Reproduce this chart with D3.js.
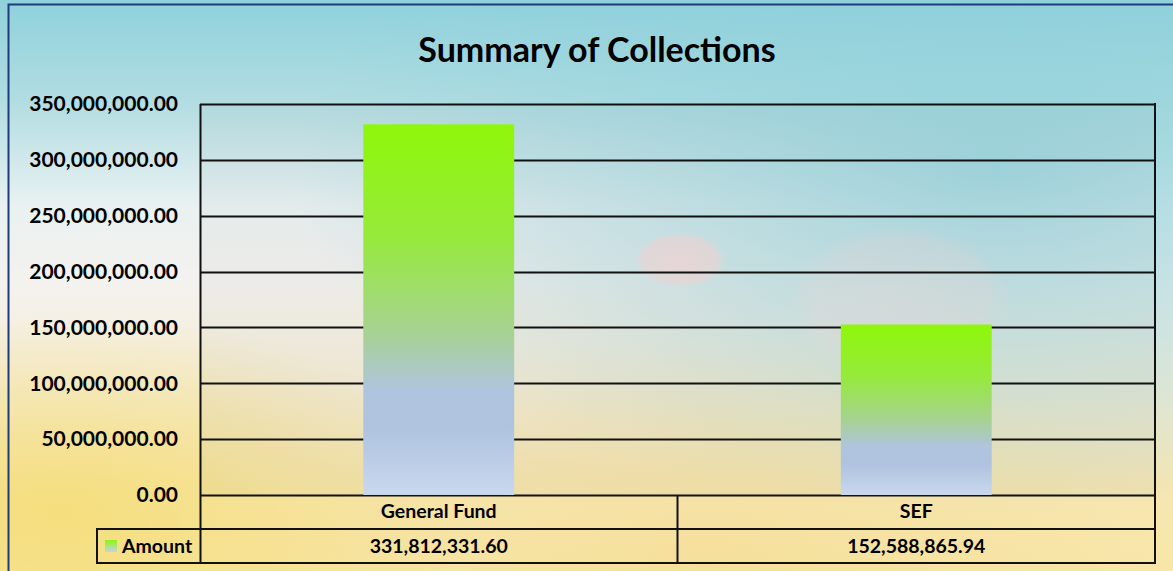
<!DOCTYPE html>
<html><head><meta charset="utf-8">
<script src="https://cdn.jsdelivr.net/npm/d3@7"></script>
<style>html,body{margin:0;padding:0;background:#fff;overflow:hidden}svg{display:block}</style>
</head><body>
<svg id="c" width="1173" height="571"></svg>
<script>
const categories = ["General Fund", "SEF"];
const amounts = [331812331.60, 152588865.94];
const seriesName = "Amount";
const yTicks = [0, 50000000, 100000000, 150000000, 200000000, 250000000, 300000000, 350000000];
const title = "Summary of Collections";

const W = 1173, H = 571;
const svg = d3.select("#c");
const defs = svg.append("defs");
const FONT = "Lato, 'Open Sans', sans-serif";

// background gradients
const bg = defs.append("linearGradient").attr("id","bg").attr("x1",0).attr("y1",0).attr("x2",0).attr("y2",1);
[[0,"#8fd1dc"],[0.18,"#b2dde2"],[0.36,"#e9f1f2"],[0.5,"#f4f2ee"],[0.68,"#f4ecd4"],[0.85,"#f7e6b2"],[1,"#f8e6a8"]]
  .forEach(([o,c])=>bg.append("stop").attr("offset",o).attr("stop-color",c));
const rt = defs.append("radialGradient").attr("id","rt").attr("cx",0.85).attr("cy",0.3).attr("r",0.6);
rt.append("stop").attr("offset",0).attr("stop-color","#8ccfd9").attr("stop-opacity",0.75);
rt.append("stop").attr("offset",1).attr("stop-color","#8ccfd9").attr("stop-opacity",0);
const lb = defs.append("radialGradient").attr("id","lb").attr("cx",0.05).attr("cy",0.9).attr("r",0.35);
lb.append("stop").attr("offset",0).attr("stop-color","#f4dc70").attr("stop-opacity",0.8);
lb.append("stop").attr("offset",1).attr("stop-color","#f4dc70").attr("stop-opacity",0);
const rb = defs.append("radialGradient").attr("id","rb").attr("cx",0.6).attr("cy",1.0).attr("r",0.4);
rb.append("stop").attr("offset",0).attr("stop-color","#f2d88a").attr("stop-opacity",0.45);
rb.append("stop").attr("offset",1).attr("stop-color","#f2d88a").attr("stop-opacity",0);
const pk = defs.append("radialGradient").attr("id","pk");
pk.append("stop").attr("offset",0).attr("stop-color","#f6d8d8").attr("stop-opacity",0.8);
pk.append("stop").attr("offset",0.8).attr("stop-color","#f4d6d6").attr("stop-opacity",0.6);
pk.append("stop").attr("offset",1).attr("stop-color","#f4d6d6").attr("stop-opacity",0);

svg.append("rect").attr("width",W).attr("height",H).attr("fill","url(#bg)");
svg.append("rect").attr("width",W).attr("height",H).attr("fill","url(#rt)");
svg.append("rect").attr("width",W).attr("height",H).attr("fill","url(#lb)");
svg.append("rect").attr("width",W).attr("height",H).attr("fill","url(#rb)");
svg.append("ellipse").attr("cx",680).attr("cy",260).attr("rx",46).attr("ry",28).attr("fill","url(#pk)");
svg.append("ellipse").attr("cx",900).attr("cy",300).attr("rx",110).attr("ry",75).attr("fill","url(#pk)").attr("opacity",0.4);

// outer border
svg.append("rect").attr("x",8.5).attr("y",4.5).attr("width",W+10).attr("height",H+10)
  .attr("fill","none").attr("stroke","#1f3b7a").attr("stroke-width",2);

// title
svg.append("text").attr("x",597).attr("y",62).attr("text-anchor","middle")
  .attr("font-family",FONT).attr("font-weight","bold").attr("font-size",34).attr("fill","#000").text(title);

// plot geometry
const L = 200, R = 1155, T = 104, B = 495;
const x = d3.scaleBand().domain(categories).range([L,R]).paddingInner(0).paddingOuter(0);
const y = d3.scaleLinear().domain([0,350000000]).range([B,T]);

// plot area tint
svg.append("rect").attr("x",L).attr("y",T).attr("width",R-L).attr("height",B-T)
  .attr("fill","#9a9a9a").attr("fill-opacity",0.07);

// gridlines
svg.append("g").selectAll("line").data(yTicks).join("line")
  .attr("x1",L).attr("x2",R).attr("y1",d=>Math.round(y(d))+0.5).attr("y2",d=>Math.round(y(d))+0.5)
  .attr("stroke","#111").attr("stroke-width",2);

// bar gradient
const bgGrad = defs.append("linearGradient").attr("id","barg").attr("x1",0).attr("y1",0).attr("x2",0).attr("y2",1);
[[0,"#8ef70a"],[0.3,"#96ea3a"],[0.55,"#a6d38e"],[0.72,"#afc4df"],[0.82,"#afc3e0"],[1,"#c9d8ed"]]
  .forEach(([o,c])=>bgGrad.append("stop").attr("offset",o).attr("stop-color",c));

const bw = x.bandwidth()*0.316;
svg.append("g").selectAll("rect").data(amounts).join("rect")
  .attr("x",(d,i)=>x(categories[i])+x.bandwidth()/2-bw/2)
  .attr("y",d=>y(d)).attr("width",bw).attr("height",d=>B-y(d))
  .attr("fill","url(#barg)");

// y axis
const yAxis = d3.axisLeft(y).tickValues(yTicks).tickSize(0).tickPadding(22)
  .tickFormat(d=>d3.format(",.2f")(d));
const ga = svg.append("g").attr("transform",`translate(${L},0)`).call(yAxis);
ga.select(".domain").remove();
ga.selectAll("text").attr("font-family",FONT).attr("font-weight","bold").attr("font-size",21).attr("fill","#000");
// left axis line
svg.append("line").attr("x1",L+0.5).attr("x2",L+0.5).attr("y1",T).attr("y2",563).attr("stroke","#111").attr("stroke-width",2);
// right border
svg.append("line").attr("x1",R).attr("x2",R).attr("y1",T-1).attr("y2",564).attr("stroke","#111").attr("stroke-width",2);

// data table
const r1 = 529, r2 = 563, LL = 97;
svg.append("line").attr("x1",L).attr("x2",R).attr("y1",r1).attr("y2",r1).attr("stroke","#111").attr("stroke-width",2);
svg.append("line").attr("x1",LL).attr("x2",L).attr("y1",r1).attr("y2",r1).attr("stroke","#111").attr("stroke-width",2);
svg.append("line").attr("x1",LL).attr("x2",R+1).attr("y1",r2).attr("y2",r2).attr("stroke","#111").attr("stroke-width",2);
svg.append("line").attr("x1",LL).attr("x2",LL).attr("y1",r1-1).attr("y2",r2+1).attr("stroke","#111").attr("stroke-width",2);
svg.append("g").selectAll("line").data(categories.slice(1)).join("line")
  .attr("x1",d=>x(d)).attr("x2",d=>x(d)).attr("y1",B).attr("y2",r2)
  .attr("stroke","#111").attr("stroke-width",2);

svg.append("g").selectAll("text").data(categories).join("text")
  .attr("x",d=>x(d)+x.bandwidth()/2).attr("y",518).attr("text-anchor","middle")
  .attr("font-family",FONT).attr("font-weight","bold").attr("font-size",19.5).attr("fill","#000").text(d=>d);
svg.append("g").selectAll("text").data(amounts).join("text")
  .attr("x",(d,i)=>x(categories[i])+x.bandwidth()/2).attr("y",553).attr("text-anchor","middle")
  .attr("font-family",FONT).attr("font-weight","bold").attr("font-size",19.5).attr("fill","#000").text(d=>d3.format(",.2f")(d));

// legend key
const lg = defs.append("linearGradient").attr("id","lg").attr("x1",0).attr("y1",0).attr("x2",0).attr("y2",1);
lg.append("stop").attr("offset",0).attr("stop-color","#8ef70a");
lg.append("stop").attr("offset",1).attr("stop-color","#c2d3ec");
svg.append("rect").attr("x",105).attr("y",540).attr("width",12).attr("height",12).attr("fill","url(#lg)");
svg.append("text").attr("x",122).attr("y",553).attr("font-family",FONT).attr("font-weight","bold")
  .attr("font-size",19.5).attr("fill","#000").text(seriesName);
</script>
</body></html>
